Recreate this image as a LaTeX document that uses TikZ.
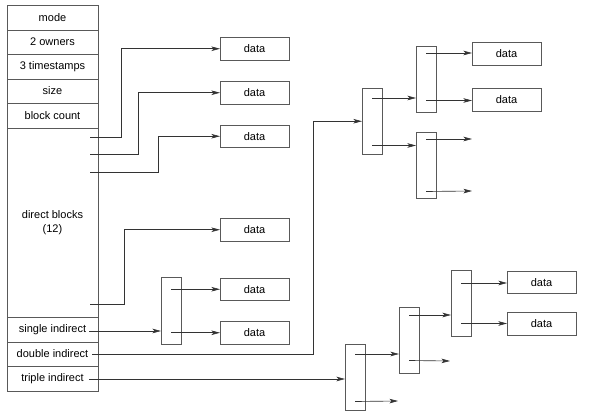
\documentclass[tikz,border=0pt]{standalone}
\usepackage{fontspec}
\setmainfont{Liberation Sans}
\usetikzlibrary{arrows.meta,calc}
\begin{document}
\begin{tikzpicture}[x=1pt,y=-1pt,
  ln/.style={draw=black!65, line width=0.7pt},
  txt/.style={font=\fontsize{11}{14}\selectfont},
  cell/.style={ln, txt, rectangle, inner sep=0pt, outer sep=0pt, minimum width=91pt, anchor=north west, align=center},
  datab/.style={ln, txt, rectangle, inner sep=0pt, outer sep=0pt, minimum width=69pt, minimum height=22.5pt, anchor=north west},
  ind/.style={ln, rectangle, inner sep=0pt, outer sep=0pt, minimum width=20pt, minimum height=66.5pt, anchor=north west},
  ptr/.style={draw=black!80, line width=0.65pt, -{Stealth[length=8.5pt,width=4.5pt,inset=2pt]}}]
\useasboundingbox (0,0) rectangle (594,419);
% inode
\node[cell, minimum height=25pt] (mode) at (7,5) {mode};
\node[cell, minimum height=24pt] (own) at (7,30) {2 owners};
\node[cell, minimum height=25pt] (ts) at (7,54) {3 timestamps};
\node[cell, minimum height=24pt] (size) at (7,79) {size};
\node[cell, minimum height=25pt] (bc) at (7,103) {block count};
\node[cell, minimum height=189pt] (dir) at (7,128) {direct blocks\\(12)};
\node[cell, minimum height=25pt] (sgl) at (7,317) {single indirect};
\node[cell, minimum height=24pt] (dbl) at (7,342) {double indirect};
\node[cell, minimum height=25pt] (tpl) at (7,366) {triple indirect};
% pointer origins
\coordinate (p1) at (90,137);
\coordinate (p2) at (90,154);
\coordinate (p3) at (90,172);
\coordinate (p4) at (90,304);
\coordinate (ps) at (89,331);
\coordinate (pd) at (92,354);
\coordinate (pt) at (89,379);
% direct data
\node[datab] (D1) at (220,37.5) {data};
\node[datab] (D2) at (220,81.5) {data};
\node[datab] (D3) at (220,125) {data};
\node[datab] (D4) at (220,218.5) {data};
% single indirect
\node[ind, minimum height=67pt] (S) at (161,277) {};
\node[datab] (D5) at (220,278) {data};
\node[datab] (D6) at (220,321.5) {data};
% double indirect
\node[ind] (L1) at (362,88) {};
\node[ind] (L2a) at (416,46) {};
\node[ind] (L2b) at (416,132) {};
\node[datab] (D7) at (472,42.5) {data};
\node[datab] (D8) at (472,88.5) {data};
% triple indirect
\node[ind] (T1) at (345,344) {};
\node[ind] (T2) at (399,307) {};
\node[ind] (T3) at (451,270) {};
\node[datab] (D9) at (507,271) {data};
\node[datab] (D10) at (507,312.5) {data};
% direct connectors
\draw[ptr] (p1) -- ++(31,0) |- (D1.west);
\draw[ptr] (p2) -- ++(48,0) |- (D2.west);
\draw[ptr] (p3) -- ++(68,0) |- (D3.west);
\draw[ptr] (p4) -- ++(34,0) |- (D4.west);
% single
\draw[ptr] (ps) -- (ps -| S.west);
\draw[ptr] (D5.west -| S.center) -- (D5.west);
\draw[ptr] (D6.west -| S.center) -- (D6.west);
% double
\draw[ptr] (pd) -- ++(221,0) |- (L1.west);
\coordinate (l1a) at ($(L1.north)+(0,10)$);
\coordinate (l1b) at ($(L1.south)+(0,-9)$);
\draw[ptr] (l1a) -- (l1a -| L2a.west);
\draw[ptr] (l1b) -- (l1b -| L2b.west);
\coordinate (l2a1) at ($(L2a.north)+(0,7)$);
\coordinate (l2a2) at ($(L2a.south)+(0,-12)$);
\draw[ptr] (l2a1) -- (l2a1 -| D7.west);
\draw[ptr] (l2a2) -- (l2a2 -| D8.west);
\coordinate (l2b1) at ($(L2b.north)+(0,7)$);
\coordinate (l2b2) at ($(L2b.south)+(0,-7)$);
\coordinate (e1) at (472,139);
\coordinate (e2) at (472,191);
\draw[ptr] (l2b1) -- (e1);
\draw[ptr] (l2b2) -- (e2);
% triple
\draw[ptr] (pt) -- (pt -| T1.west);
\coordinate (t1a) at ($(T1.north)+(0,10)$);
\coordinate (t1b) at ($(T1.south)+(0,-9)$);
\coordinate (e3) at (398,401);
\draw[ptr] (t1a) -- (t1a -| T2.west);
\draw[ptr] (t1b) -- (e3);
\coordinate (t2a) at ($(T2.north)+(0,8)$);
\coordinate (t2b) at ($(T2.south)+(0,-13)$);
\coordinate (e4) at (450,361);
\draw[ptr] (t2a) -- (t2a -| T3.west);
\draw[ptr] (t2b) -- (e4);
\coordinate (t3a) at ($(T3.north)+(0,13)$);
\coordinate (t3b) at ($(T3.south)+(0,-13)$);
\draw[ptr] (t3a) -- (t3a -| D9.west);
\draw[ptr] (t3b) -- (t3b -| D10.west);
\end{tikzpicture}
\end{document}
